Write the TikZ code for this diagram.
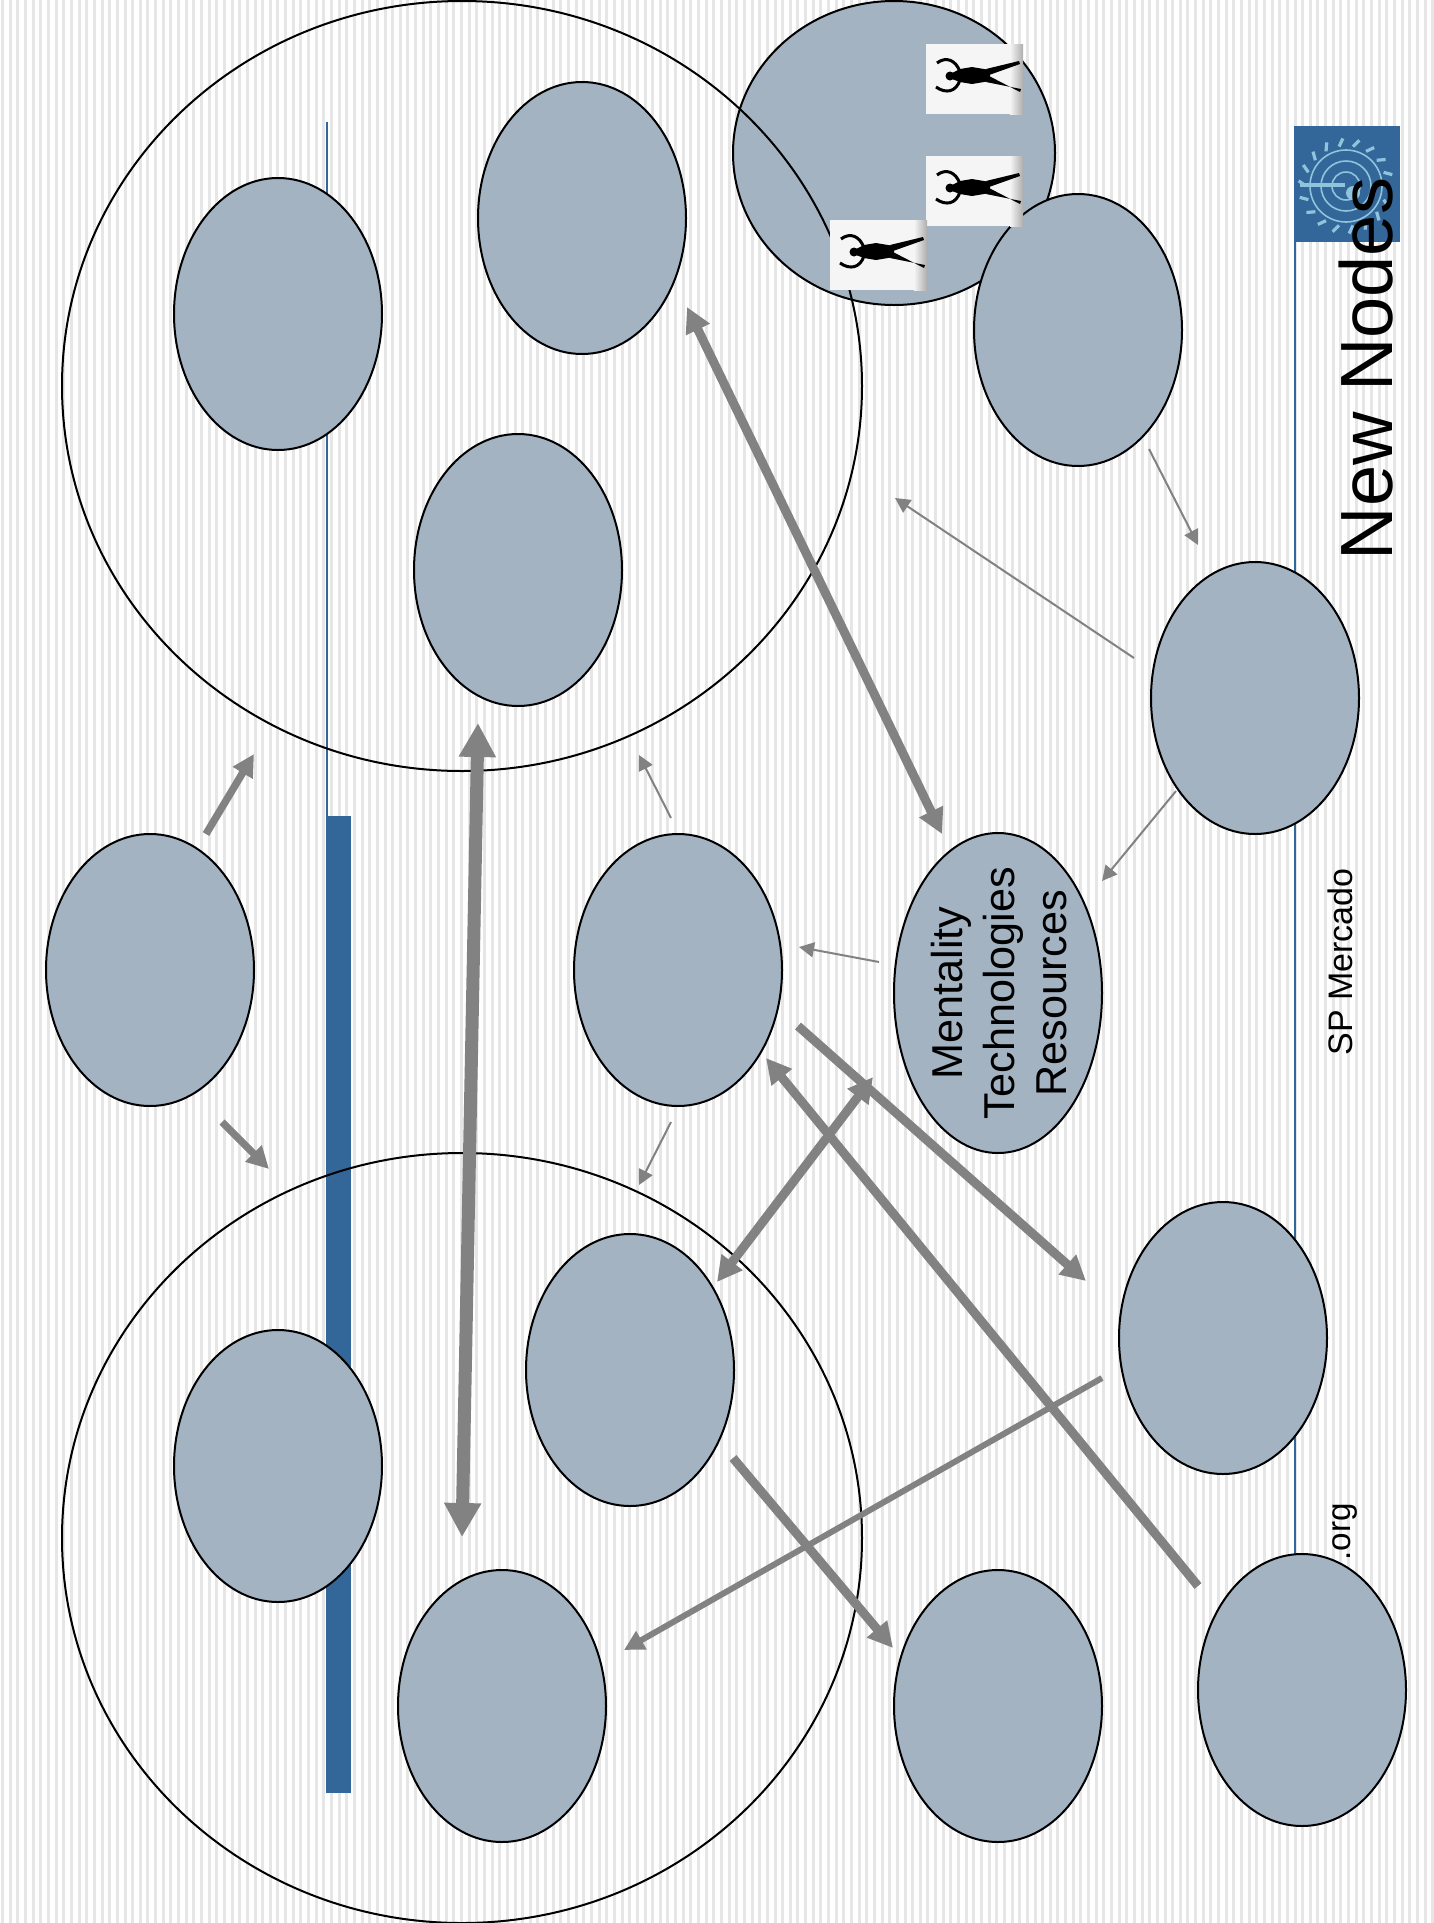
\documentclass[tikz,border=0pt]{standalone}
\usepackage{fontspec}
\setmainfont{Liberation Sans}
\usetikzlibrary{positioning,arrows.meta,shapes.geometric}
\definecolor{stripegray}{HTML}{E6E6E6}
\definecolor{orbfill}{HTML}{A3B3C2}
\definecolor{barblue}{HTML}{336699}
\definecolor{arrowgray}{HTML}{828282}
\definecolor{logolight}{HTML}{8FC4DC}
\tikzset{
  orb/.style={ellipse, draw=black, fill=orbfill, line width=1pt, inner sep=0pt,
              minimum width=104pt, minimum height=136pt},
  bigring/.style={ellipse, draw=black, line width=1pt, inner sep=0pt,
                  minimum width=400pt, minimum height=385pt},
  thinfwd/.style={arrowgray, line width=1pt, >={Triangle[length=7.5pt,width=7.5pt]}},
  slimfwd/.style={arrowgray, line width=3pt, >={Triangle[length=10pt,width=10pt]}},
  midfwd/.style={arrowgray, line width=3.7pt, >={Triangle[length=11pt,width=11pt]}},
  widefwd/.style={arrowgray, line width=4.5pt, >={Triangle[length=12.5pt,width=12.5pt]}},
  fatfwd/.style={arrowgray, line width=6.5pt, >={Triangle[length=17pt,width=17.5pt]}},
  vlabel/.style={rotate=90, anchor=base, inner sep=0pt},
  figbox/.pic={
    \fill[white!96!black] (0,0) rectangle (84,70);
    \shade[left color=white!96!black, right color=black!32] (84,0) rectangle (97,70);
    \fill[black] (24,32) circle (4.5);
    \fill[black] (26,29) -- (34,25) -- (46,23) -- (64,26) -- (64,37) -- (46,40) -- (34,38) -- (26,35) -- cycle;
    \draw[black, line width=1.5pt] (34,28) .. controls (30,16) and (20,12) .. (11,19);
    \draw[black, line width=1.5pt] (34,36) .. controls (30,48) and (20,50) .. (10,43);
    \fill[black] (60,25) -- (93,17) -- (94,20) -- (63,31) -- cycle;
    \fill[black] (60,38) -- (95,45) -- (94,48) -- (63,32) -- cycle;
  },
}
\begin{document}
\begin{tikzpicture}[x=0.5pt,y=-0.5pt]
  \useasboundingbox (0,0) rectangle (1434,1923);
  % background stripes
  \foreach \i in {0,...,187}
    \fill[stripegray] ({\i*7.647+1.2},0) rectangle +(3,1923);

  % logo
  \fill[barblue] (1294,126) rectangle (1400,242);
  \foreach \r in {14,25,36}
    \draw[logolight, line width=0.8pt] (1346,186) circle (\r);
  \foreach \a in {20,40,...,340}
    \draw[logolight, line width=1.6pt] (1346,186) ++(\a:40) -- ++(\a+35:9);
  \draw[logolight, line width=2pt] (1300,185) -- (1345,185);
  \fill[logolight] (1353,193) circle (7);

  % side rules
  \draw[barblue, line width=1pt] (327,122) -- (327,816);
  \fill[barblue] (326,816) rectangle (351,1793);
  \draw[barblue, line width=1pt] (1295,242) -- (1295,1556);

  \node[vlabel, font=\fontsize{17}{20}\selectfont] (site) at (1352,962) {SP Mercado};
  \node[vlabel, font=\fontsize{16.6}{20}\selectfont] (org) at (1350,1532) {.org};

  % group rings and nodes
  \node[orb, minimum width=161pt, minimum height=152pt] (corner) at (894,153) {};
  \node[bigring] (ringtop) at (462,386) {};
  \node[bigring] (ringbot) at (462,1538) {};

  \node[orb] (node1) at (278,314) {};
  \node[orb] (node2) at (582,218) {};
  \node[orb] (node3) at (518,570) {};
  \node[orb] (node4) at (150,970) {};
  \node[orb] (node5) at (678,970) {};
  \node[orb, minimum height=160pt] (node6) at (998,993) {};
  \node[rotate=90, align=center, inner sep=0pt, font=\fontsize{21.6}{26}\selectfont]
    (node6txt) at ([xshift=0.7pt]node6.center) {Mentality\\Technologies\\Resources};
  \node[orb] (node7) at (1078,330) {};
  \node[orb] (node8) at (1255,698) {};
  \node[orb] (node9) at (1223,1338) {};
  \node[orb] (node10) at (630,1370) {};
  \node[orb] (node11) at (278,1466) {};
  \node[orb] (node12) at (502,1706) {};
  \node[orb] (node13) at (998,1706) {};
  \node[orb] (node14) at (1302,1690) {};

  % free ends of the connectors
  \coordinate (a1s) at (206,834);   \coordinate (a1e) at (254,754);
  \coordinate (a2s) at (222,1122);  \coordinate (a2e) at (269,1169);
  \coordinate (a3s) at (478,723);   \coordinate (a3e) at (462,1537);
  \coordinate (a4s) at (687,307);   \coordinate (a4e) at (942,834);
  \coordinate (a5s) at (671,818);   \coordinate (a5e) at (639,755);
  \coordinate (a6s) at (671,1122);  \coordinate (a6e) at (639,1185);
  \coordinate (a7s) at (879,962);   \coordinate (a7e) at (799,947);
  \coordinate (a8s) at (1134,658);  \coordinate (a8e) at (895,498);
  \coordinate (a9s) at (1176,791);  \coordinate (a9e) at (1102,881);
  \coordinate (a10s) at (1149,449); \coordinate (a10e) at (1198,545);
  \coordinate (a11s) at (798,1026); \coordinate (a11e) at (1086,1281);
  \coordinate (a12s) at (873,1077); \coordinate (a12e) at (717,1282);
  \coordinate (a13s) at (1198,1586); \coordinate (a13e) at (766,1058);
  \coordinate (a14s) at (1102,1378); \coordinate (a14e) at (624,1650);
  \coordinate (a15s) at (733,1458); \coordinate (a15e) at (893,1648);

  \draw[midfwd, ->] (a1s) -- (a1e);
  \draw[midfwd, ->] (a2s) -- (a2e);
  \draw[fatfwd, <->] (a3s) -- (a3e);
  \draw[widefwd, <->] (a4s) -- (a4e);
  \draw[thinfwd, ->] (a5s) -- (a5e);
  \draw[thinfwd, ->] (a6s) -- (a6e);
  \draw[thinfwd, ->] (a7s) -- (a7e);
  \draw[thinfwd, ->] (a8s) -- (a8e);
  \draw[thinfwd, ->] (a9s) -- (a9e);
  \draw[thinfwd, ->] (a10s) -- (a10e);
  \draw[widefwd, ->] (a11s) -- (a11e);
  \draw[widefwd, <->] (a12s) -- (a12e);
  \draw[widefwd, ->] (a13s) -- (a13e);
  \draw[slimfwd, ->] (a14s) -- (a14e);
  \draw[widefwd, ->] (a15s) -- (a15e);

  % figures in the corner
  \pic (fig1) at (926,44) {figbox};
  \pic (fig2) at (926,156) {figbox};
  \pic (fig3) at (830,220) {figbox};

  \node[vlabel, font=\fontsize{37}{44}\selectfont] (title) at (1392,369) {New Nodes};
\end{tikzpicture}
\end{document}
